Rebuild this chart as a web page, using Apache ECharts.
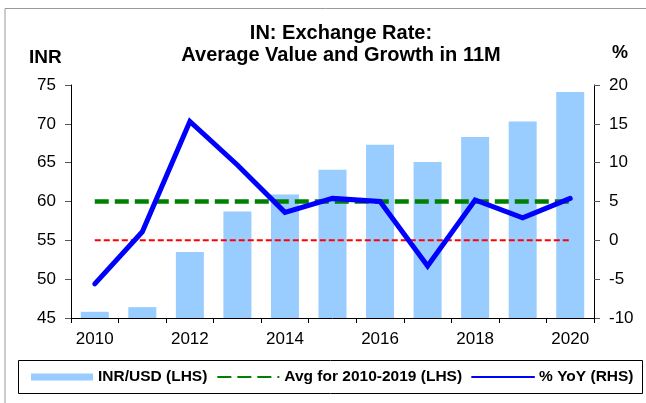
<!DOCTYPE html>
<html><head><meta charset="utf-8">
<script src="https://cdn.jsdelivr.net/npm/echarts@6/dist/echarts.min.js"></script>
<style>html,body{margin:0;padding:0;background:#fff}#c{width:646px;height:403px}</style>
</head><body><div id="c"></div>
<script>
const years = ['2010','2011','2012','2013','2014','2015','2016','2017','2018','2019','2020'];
const inrUsd = [45.8, 46.4, 53.5, 58.7, 60.9, 64.1, 67.3, 65.1, 68.3, 70.3, 74.1];
const yoy = [-5.6, 1.1, 15.3, 9.7, 3.6, 5.4, 5.0, -3.3, 5.2, 2.9, 5.4];
const avg2010_2019 = [60.0, 60.0, 60.0, 60.0, 60.0, 60.0, 60.0, 60.0, 60.0, 60.0, 60.0];
const zeroLine = [0, 0, 0, 0, 0, 0, 0, 0, 0, 0, 0];
const leftTicks = [45, 75, 5];
const rightTicks = [-10, 20, 5];
const FONT = 'Liberation Sans, Arial, sans-serif';

const chart = echarts.init(document.getElementById('c'), null, {renderer: 'canvas'});
chart.setOption({
  animation: false,
  backgroundColor: '#fff',
  textStyle: {fontFamily: FONT},
  title: {
    text: 'IN: Exchange Rate:\nAverage Value and Growth in 11M',
    left: 336, top: 17, textAlign: 'center',
    textStyle: {fontFamily: FONT, fontSize: 20, fontWeight: 'bold', color: '#000', lineHeight: 22}
  },
  graphic: [
    {type: 'polyline', shape: {points: [[5, 403], [5, 8.5], [646, 8.5]]}, style: {stroke: '#999', lineWidth: 1, fill: null}},
    {type: 'rect', shape: {x: 18.5, y: 360.5, width: 624, height: 33}, style: {stroke: '#000', lineWidth: 1, fill: null}},
    {type: 'text', left: 29, top: 48, style: {text: 'INR', font: 'bold 19px ' + FONT, fill: '#000'}},
    {type: 'text', left: 612, top: 44, style: {text: '%', font: 'bold 18px ' + FONT, fill: '#000'}}
  ],
  grid: {left: 71, right: 52, top: 85, bottom: 85, containLabel: false},
  legend: {
    left: 26, top: 364, itemGap: 9, itemWidth: 62, itemHeight: 7,
    data: [
      {name: 'INR/USD (LHS)', icon: 'rect'},
      {name: 'Avg for 2010-2019 (LHS)', itemStyle: {opacity: 0}},
      {name: '% YoY (RHS)', itemStyle: {opacity: 0}}
    ],
    textStyle: {fontFamily: FONT, fontSize: 15.5, fontWeight: 'bold', color: '#000', padding: [0, 0, 0, 0]}
  },
  xAxis: {
    type: 'category', data: years, boundaryGap: true,
    axisLine: {onZero: false, lineStyle: {color: '#000', width: 1}},
    axisTick: {show: true, inside: false, length: 5, alignWithLabel: false, interval: 0, lineStyle: {color: '#000'}},
    axisLabel: {interval: 1, fontSize: 17, color: '#000', margin: 13, fontFamily: FONT}
  },
  yAxis: [
    {
      type: 'value', min: leftTicks[0], max: leftTicks[1], interval: leftTicks[2], position: 'left',
      splitLine: {show: false},
      axisLine: {show: true, onZero: false, lineStyle: {color: '#000'}},
      axisTick: {show: true, length: 6, lineStyle: {color: '#555'}},
      axisLabel: {fontSize: 17, color: '#000', margin: 15, fontFamily: FONT}
    },
    {
      type: 'value', min: rightTicks[0], max: rightTicks[1], interval: rightTicks[2], position: 'right',
      splitLine: {show: false},
      axisLine: {show: true, onZero: false, lineStyle: {color: '#000'}},
      axisTick: {show: true, length: 6, lineStyle: {color: '#555'}},
      axisLabel: {fontSize: 17, color: '#000', margin: 15, fontFamily: FONT}
    }
  ],
  series: [
    {
      name: 'INR/USD (LHS)', type: 'bar', yAxisIndex: 0, data: inrUsd, barWidth: 28,
      itemStyle: {color: '#99CCFF'}, z: 1
    },
    {
      name: 'zero', type: 'line', yAxisIndex: 1, data: zeroLine, symbol: 'none',
      lineStyle: {color: '#FF0000', width: 2, type: [6, 3]}, z: 2, silent: true
    },
    {
      name: 'Avg for 2010-2019 (LHS)', type: 'line', yAxisIndex: 0, data: avg2010_2019, symbol: 'none',
      itemStyle: {color: '#008000'},
      lineStyle: {color: '#008000', width: 4.5, type: [14, 6]}, z: 3
    },
    {
      name: '% YoY (RHS)', type: 'line', yAxisIndex: 1, data: yoy, symbol: 'none',
      itemStyle: {color: '#0000FF'},
      lineStyle: {color: '#0000FF', width: 5, cap: 'round', join: 'miter'}, z: 4
    }
  ]
});
</script></body></html>
